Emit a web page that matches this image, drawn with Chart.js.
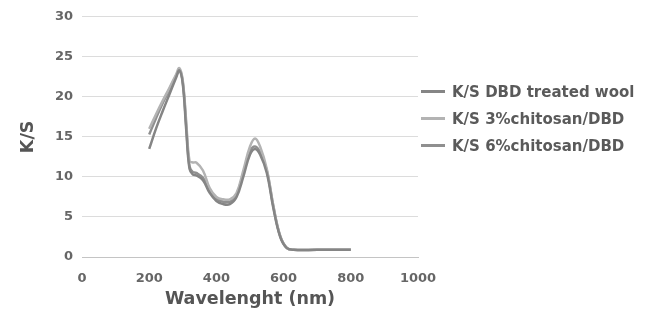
<!DOCTYPE html>
<html>
<head>
<meta charset="utf-8">
<script src="https://cdn.jsdelivr.net/npm/chart.js@4"></script>
<style>
  html, body { margin: 0; padding: 0; background: #fff; }
  #wrap { position: relative; width: 649px; height: 325px; }
  #legend { position: absolute; left: 421px; top: 78px; font-family: "DejaVu Sans", sans-serif; font-weight: bold; font-size: 15px; color: #5a5a5a; }
  .legend-item { display: flex; align-items: center; height: 27px; white-space: nowrap; }
  .legend-line { width: 24px; height: 3px; margin-right: 7px; display: inline-block; }
</style>
</head>
<body>
<div id="wrap">
  <canvas id="ksChart" width="649" height="325"></canvas>
  <div id="legend"></div>
</div>
<script>
// wavelength (nm)
var wavelengths = [200, 220, 240, 260, 280, 290, 300, 310, 320, 330, 340, 360, 380, 400, 420, 440, 460, 480, 500, 515, 530, 550, 570, 590, 610, 630, 700, 800];

var seriesNames = ['K/S DBD treated wool', 'K/S 3%chitosan/DBD', 'K/S 6%chitosan/DBD'];
var seriesColors = ['#858585', '#b3b3b3', '#8f8f8f'];

var ksDbd       = [13.5, 16.0, 18.2, 20.3, 22.4, 23.3, 21.6, 16.0, 11.0, 10.3, 10.2, 9.6, 8.0, 7.0, 6.6, 6.6, 7.5, 10.0, 12.8, 13.5, 12.8, 10.5, 6.0, 2.5, 1.1, 0.9, 0.9, 0.9];
var ks3Chitosan = [16.0, 17.8, 19.5, 21.1, 22.8, 23.6, 22.0, 17.0, 12.0, 11.8, 11.8, 10.8, 8.6, 7.5, 7.2, 7.2, 8.0, 10.8, 13.8, 14.8, 13.8, 11.0, 6.3, 2.6, 1.1, 0.9, 0.9, 0.9];
var ks6Chitosan = [15.3, 17.3, 19.2, 20.9, 22.6, 23.4, 21.8, 16.5, 11.3, 10.6, 10.5, 9.9, 8.3, 7.3, 6.9, 6.9, 7.8, 10.4, 13.2, 13.8, 13.1, 10.8, 6.2, 2.6, 1.1, 0.9, 0.9, 0.9];

var xTicks = [0, 200, 400, 600, 800, 1000];
var yTicks = [0, 5, 10, 15, 20, 25, 30];

function toPoints(vals) {
    return vals.map(function (v, i) { return { x: wavelengths[i], y: v }; });
}

document.addEventListener('DOMContentLoaded', function () {
    var allVals = [ksDbd, ks3Chitosan, ks6Chitosan];
    var datasets = allVals.map(function (vals, i) {
        return {
            label: seriesNames[i],
            data: toPoints(vals),
            borderColor: seriesColors[i],
            borderWidth: 2.5,
            tension: 0.4,
            pointRadius: 0,
            fill: false
        };
    });

    /* legend */
    var legendEl = document.getElementById('legend');
    seriesNames.forEach(function (name, i) {
        var s = document.createElement('div');
        s.className = 'legend-item';
        s.innerHTML = '<span class="legend-line" style="background:' + seriesColors[i] + '"></span>' + name;
        legendEl.appendChild(s);
    });

    var tickFont = { family: '"DejaVu Sans", sans-serif', size: 13, weight: 'bold' };
    var titleFont = { family: '"DejaVu Sans", sans-serif', size: 17.5, weight: 'bold' };

    new Chart(document.getElementById('ksChart'), {
        type: 'line',
        data: { datasets: datasets },
        options: {
            responsive: false,
            animation: false,
            layout: { padding: { top: 12, right: 231, left: 14, bottom: 11 } },
            plugins: { legend: { display: false }, tooltip: { enabled: false } },
            scales: {
                x: {
                    type: 'linear',
                    min: 0, max: 1000,
                    afterBuildTicks: function (s) { s.ticks = xTicks.map(function (v) { return { value: v }; }); },
                    grid: { display: false },
                    border: { display: true, color: '#c4c4c4', width: 1 },
                    ticks: { font: tickFont, color: '#666', padding: 6, callback: function (v) { return String(v); } },
                    title: { display: true, text: 'Wavelenght (nm)', font: titleFont, color: '#555', padding: { top: 2 } },
                    afterFit: function (s) { s.height = 57; }
                },
                y: {
                    min: 0, max: 30,
                    afterBuildTicks: function (s) { s.ticks = yTicks.map(function (v) { return { value: v }; }); },
                    grid: { color: '#dcdcdc', drawTicks: false },
                    border: { display: false },
                    ticks: { font: tickFont, color: '#666', padding: 9 },
                    title: { display: true, text: 'K/S', font: titleFont, color: '#555', padding: { bottom: 4 } },
                    afterFit: function (s) { s.width = 68; }
                }
            }
        }
    });
});
</script>
</body>
</html>
